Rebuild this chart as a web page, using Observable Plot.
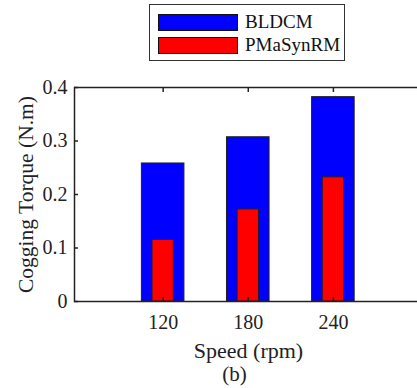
<!DOCTYPE html>
<html>
<head>
<meta charset="utf-8">
<script src="https://cdn.jsdelivr.net/npm/d3@7"></script>
<script src="https://cdn.jsdelivr.net/npm/@observablehq/plot@0.6"></script>
<style>
  html, body { margin: 0; padding: 0; background: #fff; }
  #wrap { position: relative; width: 417px; height: 388px; overflow: hidden; }
  #wrap, #wrap * { font-family: "Liberation Serif", "Times New Roman", serif !important; }
  #legend { position: absolute; left: 149px; top: 4px; width: 196px; height: 57px; border: 1px solid #333; background: #fff; box-sizing: border-box; }
  .item { position: absolute; left: 8px; height: 18px; display: flex; align-items: center; }
  .sw { width: 80px; height: 17px; border: 1px solid #111; box-sizing: border-box; }
  .lab { margin-left: 7px; font-size: 19px; color: #111; line-height: 18px; }
  #chart svg { position: absolute; left: 0; top: 0; }
</style>
</head>
<body>
<div id="wrap">
  <div id="chart"></div>
  <div id="legend"></div>
</div>
<script>
const speeds = [120, 180, 240];
const bldcm = [0.258, 0.307, 0.382];
const pmasynrm = [0.115, 0.172, 0.232];
const seriesNames = ["BLDCM", "PMaSynRM"];
const seriesColors = ["#0000ff", "#ff0000"];
const xTicks = [120, 180, 240];
const yTicks = [0, 0.1, 0.2, 0.3, 0.4];
const yTickLabels = ["0", "0.1", "0.2", "0.3", "0.4"];

const blueHalf = 15, redHalf = 7.5;
const font = '"Liberation Serif", serif';

const blueData = speeds.map((s, i) => ({speed: s, value: bldcm[i]}));
const redData = speeds.map((s, i) => ({speed: s, value: pmasynrm[i]}));
const chart = Plot.plot({
  width: 417,
  height: 388,
  marginTop: 87,
  marginBottom: 87,
  marginLeft: 74,
  marginRight: -1,
  style: {fontFamily: font, background: "transparent", color: "#222"},
  x: {type: "linear", domain: [57.5, 300]},
  y: {domain: [0, 0.4]},
  marks: [
    Plot.rectY(blueData, {x1: d => d.speed - blueHalf, x2: d => d.speed + blueHalf, y: "value", fill: seriesColors[0], stroke: "#222", strokeWidth: 1}),
    Plot.rectY(redData, {x1: d => d.speed - redHalf, x2: d => d.speed + redHalf, y: "value", fill: seriesColors[1], stroke: "#222", strokeWidth: 1}),
    Plot.frame({stroke: "#222", strokeWidth: 1.5}),
    Plot.axisX({anchor: "bottom", ticks: xTicks, tickSize: -4, tickPadding: 17, tickFormat: d => String(d), fontSize: 20, fontFamily: font, label: null, stroke: "#222", strokeWidth: 1.5}),
    Plot.axisX({anchor: "top", ticks: xTicks, tickSize: -4, text: null, label: null, stroke: "#222", strokeWidth: 1.5}),
    Plot.axisY({anchor: "left", ticks: yTicks, tickSize: -4, tickPadding: 11, tickFormat: (d, i) => yTickLabels[i], fontSize: 20, fontFamily: font, label: null, stroke: "#222", strokeWidth: 1.5}),
    Plot.text(["Cogging Torque (N.m)"], {frameAnchor: "left", dx: -48, rotate: -90, textAnchor: "middle", lineAnchor: "middle", fontSize: 21.5, fontFamily: font, fill: "#222"}),
    Plot.text(["Speed (rpm)"], {frameAnchor: "bottom", dx: 2, dy: 49, textAnchor: "middle", lineAnchor: "middle", fontSize: 22, fontFamily: font, fill: "#222"}),
    Plot.text(["(b)"], {frameAnchor: "bottom", dx: -12, dy: 73, textAnchor: "middle", lineAnchor: "middle", fontSize: 21, fontFamily: font, fill: "#222"})
  ]
});
document.getElementById("chart").appendChild(chart);

const legend = document.getElementById("legend");
seriesNames.forEach((name, i) => {
  const item = document.createElement("div");
  item.className = "item";
  item.style.top = (8 + i * 23) + "px";
  item.innerHTML = `<div class="sw" style="background:${seriesColors[i]}"></div><span class="lab">${name}</span>`;
  legend.appendChild(item);
});

document.querySelectorAll("#wrap text, #wrap .lab, #wrap g").forEach(el => {
  el.style.setProperty("font-family", '"Liberation Serif", serif', "important");
});
</script>
</body>
</html>
